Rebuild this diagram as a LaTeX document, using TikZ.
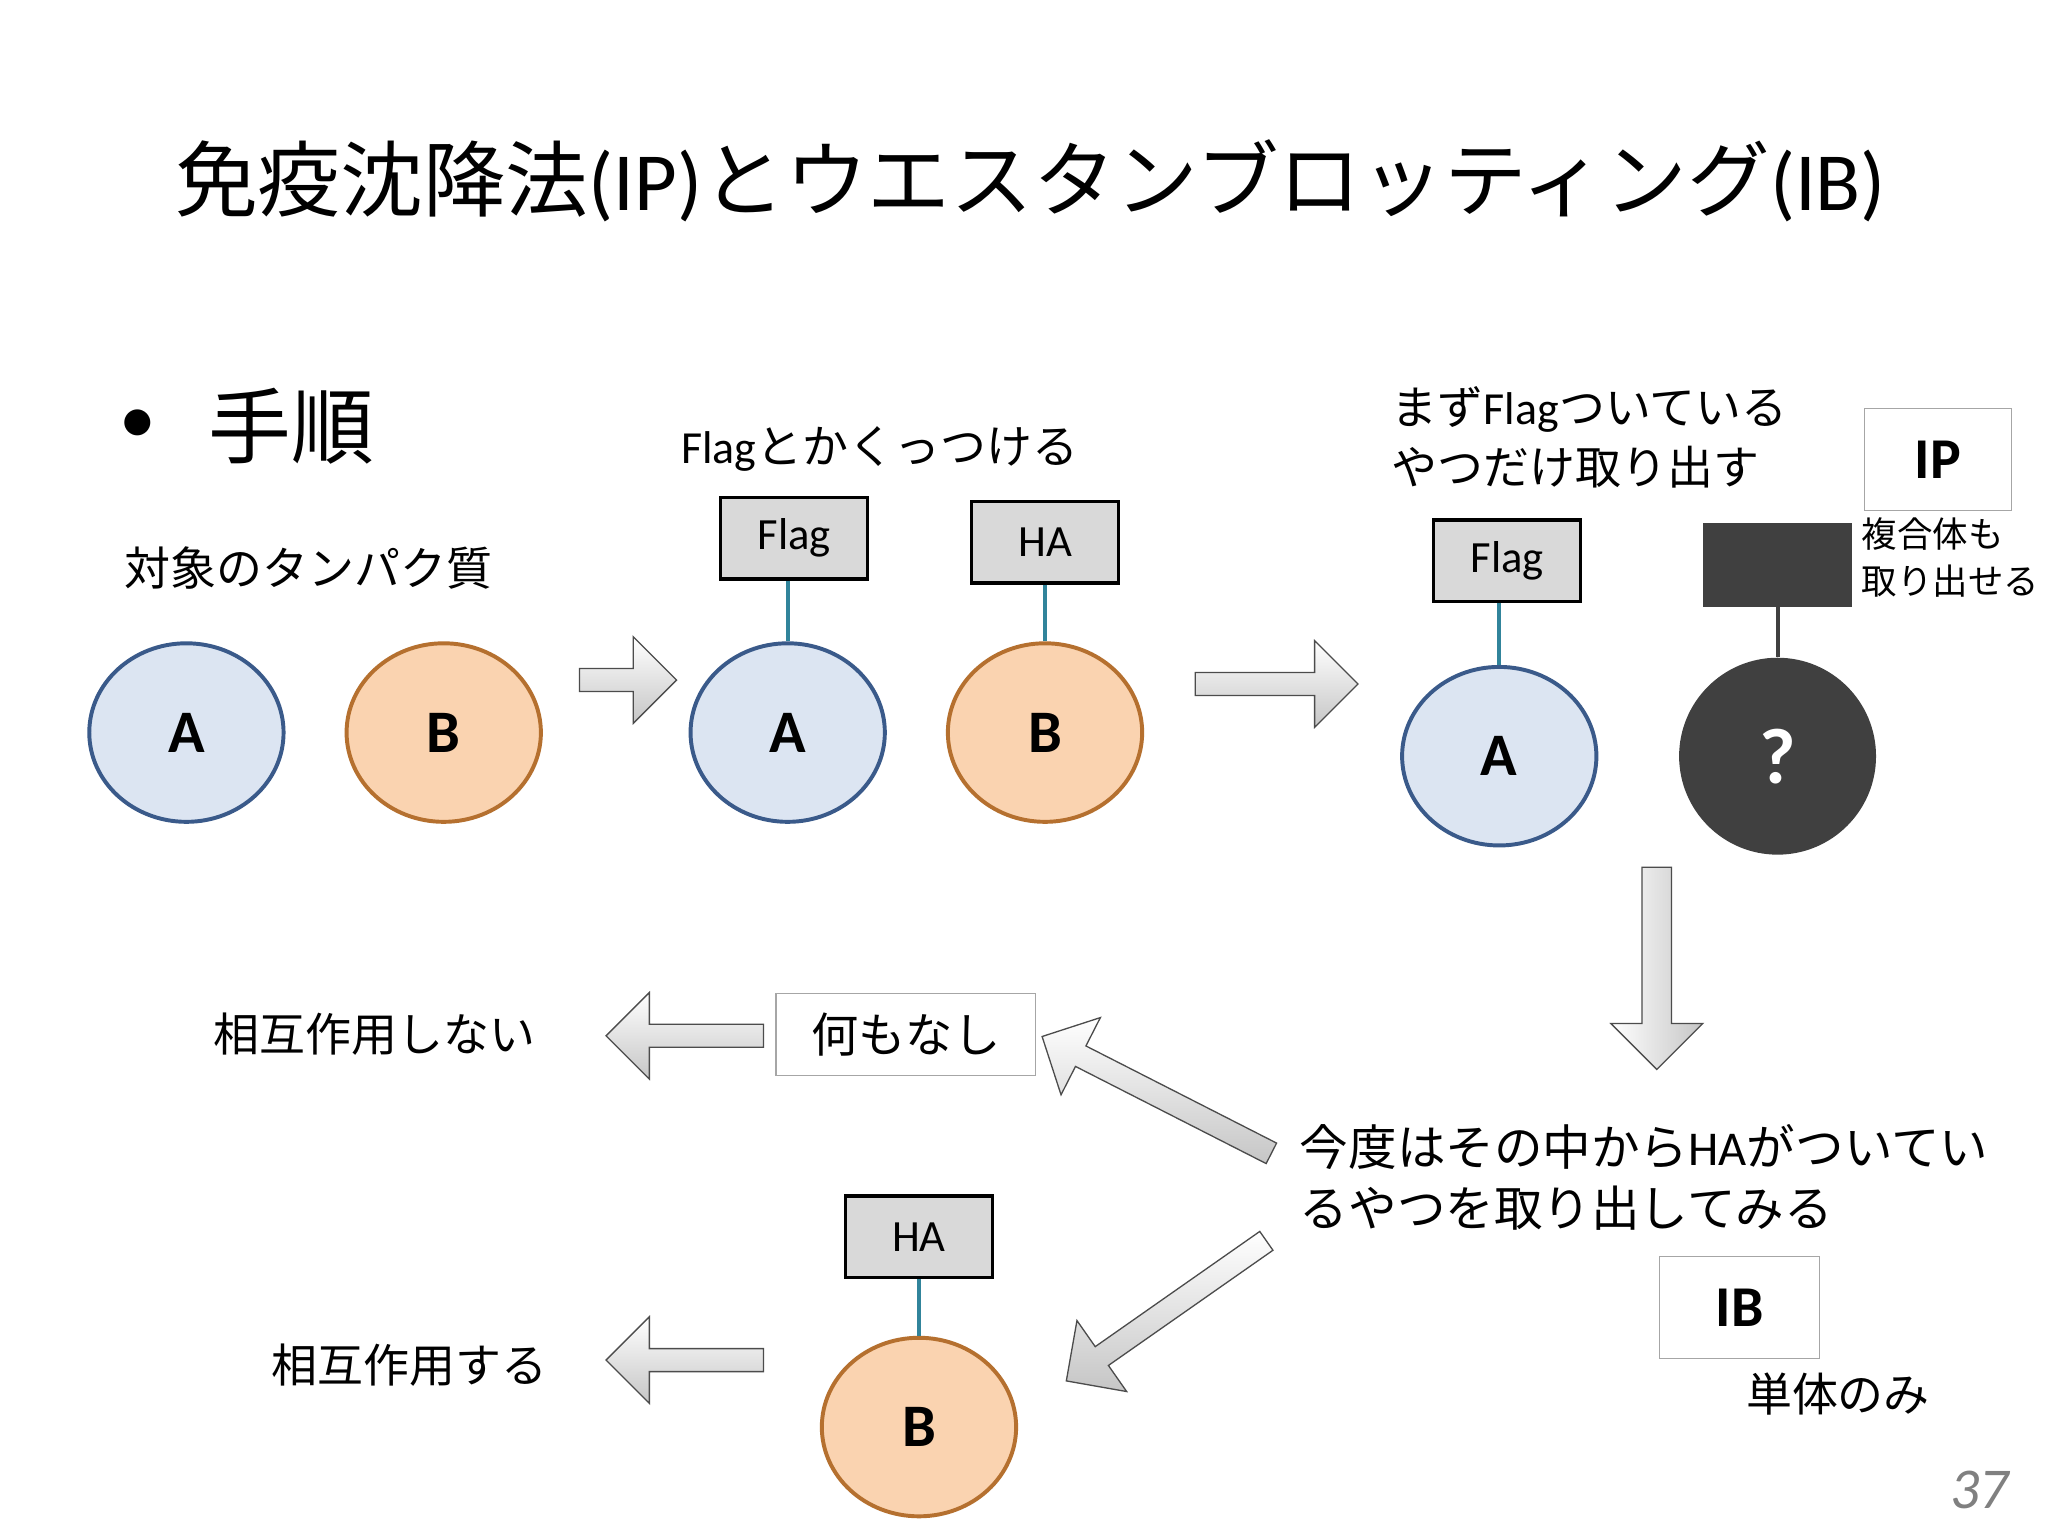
\documentclass[tikz,border=0pt]{standalone}
\usepackage{fontspec}
\setmainfont{Carlito}
\newfontfamily\cjk{Noto Sans CJK JP}
\usetikzlibrary{shapes.arrows,shapes.geometric}
\definecolor{bfill}{HTML}{DCE5F2}\definecolor{bdraw}{HTML}{3A5A8A}
\definecolor{ofill}{HTML}{FAD3B0}\definecolor{odraw}{HTML}{B5702F}
\definecolor{teal}{HTML}{31849B}\definecolor{dark}{HTML}{404040}
\tikzset{
 prot/.style={ellipse,minimum width=148pt,minimum height=136pt,line width=3pt,font=\fontsize{46}{46}\selectfont\bfseries},
 pa/.style={prot,fill=bfill,draw=bdraw},
 pb/.style={prot,fill=ofill,draw=odraw},
 tag/.style={rectangle,minimum width=112pt,minimum height=62pt,fill=gray!30,draw=black,line width=2.5pt,font=\fontsize{34}{34}\selectfont},
 lbl/.style={rectangle,draw=gray!70,line width=1pt,fill=white},
 link/.style={draw=teal,line width=3pt},
 barrow/.style={single arrow,draw=gray!60!black,line width=1pt,top color=white,bottom color=gray!45,single arrow head extend=18pt,single arrow tip angle=90},
 txt/.style={font=\cjk\fontsize{35}{46}\selectfont,inner sep=0pt},
}
\begin{document}
\begin{tikzpicture}[x=1pt,y=-1pt]
\useasboundingbox[fill=white] (0,0) rectangle (1560,1170);
\node[font=\cjk\fontsize{63}{63}\selectfont] (title) at (785,138) {免疫沈降法{\rmfamily(IP)}とウエスタンブロッティング{\rmfamily(IB)}};
\node[font=\fontsize{56}{56}\selectfont] (bul) at (105,325) {•};
\node[font=\cjk\fontsize{63}{63}\selectfont] (step) at (222,325) {手順};
\node[txt] (t1) at (235,433) {対象のタンパク質};
\node[pa] (a1) at (142,558) {A};
\node[pb] (b1) at (338,558) {B};
\node[barrow,minimum height=74pt,minimum width=66pt,inner sep=6pt] (ar1) at (474,518) {};
\node[txt] (t2) at (670,342) {{\rmfamily Flag}とかくっつける};
\node[pa] (a2) at (600,558) {A};
\node[pb] (b2) at (796,558) {B};
\node[tag] (f2) at (605,410) {Flag};
\node[tag] (h2) at (796,413) {HA};
\draw[link] (f2.south -| a2.north) -- (a2.north);
\draw[link] (h2.south) -- (b2.north);
\node[barrow,minimum height=124pt,minimum width=66pt,inner sep=6pt] (ar2) at (968,521) {};
\node[txt,align=left,anchor=north west] (t3) at (1060,294) {まず{\rmfamily Flag}ついている\\やつだけ取り出す};
\node[lbl,minimum width=112pt,minimum height=78pt,font=\fontsize{44}{44}\selectfont\bfseries] (ip) at (1476,350) {IP};
\node[font=\cjk\fontsize{27}{36}\selectfont,align=left,anchor=north west,inner sep=0pt] (t4) at (1418,394) {複合体も\\取り出せる};
\node[tag] (f3) at (1148,427) {Flag};
\node[pa] (a3) at (1142,576) {A};
\draw[link] (f3.south -| a3.north) -- (a3.north);
\node[rectangle,minimum width=114pt,minimum height=64pt,fill=dark] (d3) at (1354,430) {};
\node[circle,minimum size=150pt,fill=dark,text=white,font=\fontsize{60}{60}\selectfont\bfseries] (q3) at (1354,576) {?};
\draw[draw=dark,line width=3pt] (d3.south) -- (q3.north);
\node[barrow,minimum height=154pt,minimum width=70pt,inner sep=8pt,rotate=-90,shading angle=90] (ar3) at (1262,732) {};
\node[txt] (t5) at (285,788) {相互作用しない};
\node[barrow,minimum height=120pt,minimum width=66pt,inner sep=6pt,rotate=180] (ar4) at (526,789) {};
\node[lbl,minimum width=198pt,minimum height=62pt,font=\cjk\fontsize{36}{36}\selectfont] (none) at (690,788) {何もなし};
\node[barrow,minimum height=196pt,minimum width=66pt,inner sep=6pt,rotate=153] (ar5) at (885,836) {};
\node[txt,align=left,anchor=north west,font=\cjk\fontsize{37}{47}\selectfont] (t6) at (990,856) {今度はその中から{\rmfamily HA}がついてい\\るやつを取り出してみる};
\node[barrow,minimum height=186pt,minimum width=66pt,inner sep=6pt,rotate=215] (ar6) at (892,996) {};
\node[tag] (h4) at (700,942) {HA};
\node[pb] (b4) at (700,1087) {B};
\draw[link] (h4.south) -- (b4.north);
\node[txt] (t7) at (312,1040) {相互作用する};
\node[barrow,minimum height=120pt,minimum width=66pt,inner sep=6pt,rotate=180] (ar7) at (526,1036) {};
\node[lbl,minimum width=122pt,minimum height=78pt,font=\fontsize{44}{44}\selectfont\bfseries] (ib) at (1325,996) {IB};
\node[txt] (t8) at (1400,1062) {単体のみ};
\node[font=\fontsize{44}{44}\selectfont\itshape,text=gray] (pg) at (1508,1135) {37};
\end{tikzpicture}
\end{document}
